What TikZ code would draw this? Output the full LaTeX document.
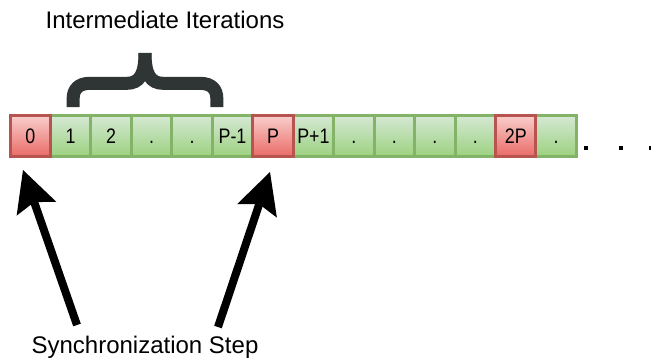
\documentclass[tikz,border=0pt]{standalone}
\usepackage{fontspec}
\usepackage{graphicx}
\setmainfont{Liberation Sans}
\usetikzlibrary{arrows.meta}
\definecolor{gfillA}{HTML}{D5E8D4}
\definecolor{gfillB}{HTML}{9CD27F}
\definecolor{gline}{HTML}{82B366}
\definecolor{rfillA}{HTML}{F8CECC}
\definecolor{rfillB}{HTML}{EA6B66}
\definecolor{rline}{HTML}{B85450}
\definecolor{bracecol}{HTML}{2F3535}
\newcommand\cellsq[1]{\scalebox{0.85}[1]{#1}}
\tikzset{
 cell/.style={rectangle, minimum width=40.46pt, minimum height=41pt, inner sep=0pt,
   line width=3pt, font=\fontsize{21}{21}\selectfont, text height=15pt, text depth=0pt},
 gcell/.style={cell, draw=gline, top color=gfillA, bottom color=gfillB},
 rcell/.style={cell, draw=rline, top color=rfillA, bottom color=rfillB},
 bigtext/.style={font=\fontsize{24}{24}\selectfont, inner sep=0pt, anchor=base},
 bigarrow/.style={line width=8pt, -{Stealth[length=41pt,width=42pt,inset=7pt,line width=0pt]}},
 dotsq/.style={rectangle, fill=black, minimum size=4pt, inner sep=0pt},
 bracestroke/.style={draw=bracecol, line width=13pt, line cap=butt}
}
\begin{document}
\begin{tikzpicture}[x=1pt,y=-1pt]
\useasboundingbox (0,0) rectangle (651,360);
% cells
\foreach \lab [count=\i from 0] in {0,1,2,.,.,P-1,P,P+1,.,.,.,.,2P,.}{
  \node[gcell] (c\i) at ({30.23+40.46*\i},136) {\cellsq{\lab}};
}
\node[rcell] (r0) at (c0) {\cellsq{0}};
\node[rcell] (r6) at (c6) {\cellsq{P}};
\node[rcell] (r12) at (c12) {\cellsq{2P}};
% trailing dots
\node[dotsq] (d1) at (586,148) {};
\node[dotsq] (d2) at (620.5,148) {};
\node[dotsq] (d3) at (651.3,148) {};
% texts
\node[bigtext] (inter) at (165,28) {Intermediate Iterations};
\node[bigtext] (sync) at (145,353) {Synchronization Step};
% brace
\draw[bracestroke] (145,53) .. controls (145,75) and (139,83.3) .. (127,83.3) -- (90,83.3)
  .. controls (78,83.3) and (73.2,90) .. (73.2,98) -- (73.2,107);
\draw[bracestroke] (145,53) .. controls (145,75) and (151,83.3) .. (163,83.3) -- (200,83.3)
  .. controls (212,83.3) and (216.8,90) .. (216.8,98) -- (216.8,107);
% arrows
\coordinate (a1t) at (77,325);
\coordinate (a1h) at (23,170);
\coordinate (a2t) at (218,327);
\coordinate (a2h) at (270,172);
\draw[bigarrow] (a1t) -- (a1h);
\draw[bigarrow] (a2t) -- (a2h);
\end{tikzpicture}
\end{document}
